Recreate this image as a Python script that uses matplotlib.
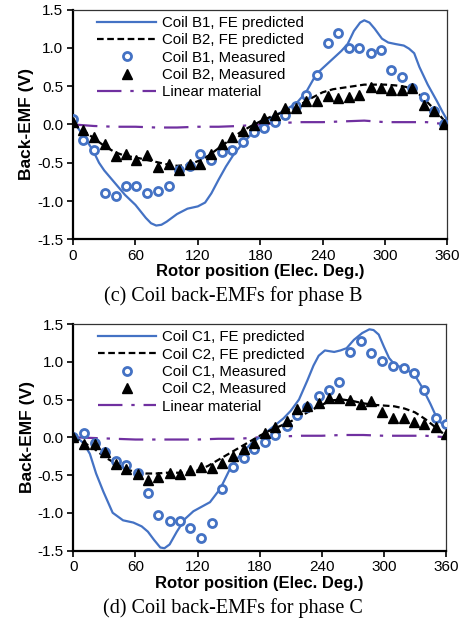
import matplotlib
matplotlib.use("Agg")
import matplotlib.pyplot as plt

plt.rcParams["font.family"] = ["Liberation Sans", "DejaVu Sans"]

BLUE = "#4472C4"
PURPLE = "#7030A0"

# ---- phase B data ----
x_meas_b = [0, 10, 20, 31, 41, 51, 61, 71, 82, 92, 102, 112, 122, 133, 143, 153, 163, 174,
            184, 194, 204, 214, 224, 235, 245, 255, 265, 275, 286, 296, 306, 316, 326, 337, 347, 357]
b1_meas = [0.07, -0.2, -0.34, -0.9, -0.93, -0.81, -0.81, -0.9, -0.87, -0.81, -0.6, -0.54,
           -0.39, -0.46, -0.36, -0.33, -0.23, -0.1, -0.04, 0.03, 0.12, 0.24, 0.39, 0.65,
           1.06, 1.19, 1.0, 1.0, 0.93, 0.97, 0.71, 0.62, 0.48, 0.36, 0.18, 0.0]
b2_meas = [0.03, -0.07, -0.17, -0.26, -0.41, -0.38, -0.46, -0.40, -0.56, -0.52, -0.6, -0.52,
           -0.52, -0.38, -0.26, -0.17, -0.08, -0.01, 0.08, 0.12, 0.22, 0.22, 0.30, 0.30,
           0.37, 0.34, 0.36, 0.39, 0.49, 0.47, 0.45, 0.45, 0.48, 0.26, 0.18, 0.0]

b1_fe_x = [0, 5, 10, 15, 20, 25, 30, 40, 50, 60, 70, 75, 80, 85, 90, 100, 110, 120, 127, 133,
           140, 147, 155, 163, 172, 182, 192, 203, 215, 224, 234, 242, 250, 258, 264, 270, 276,
           280, 285, 290, 297, 303, 310, 318, 323, 328, 333, 341, 350, 355, 360]
b1_fe_y = [0.05, -0.05, -0.15, -0.25, -0.36, -0.5, -0.6, -0.76, -0.92, -1.05, -1.22, -1.29,
           -1.32, -1.31, -1.27, -1.17, -1.1, -1.07, -1.02, -0.9, -0.72, -0.55, -0.38, -0.25,
           -0.12, 0.0, 0.1, 0.18, 0.28, 0.42, 0.66, 0.76, 0.86, 0.96, 1.05, 1.22, 1.33, 1.36,
           1.33, 1.25, 1.12, 1.07, 1.05, 1.03, 0.99, 0.93, 0.75, 0.52, 0.3, 0.17, 0.05]

fe_x = [0, 10, 20, 30, 40, 50, 60, 70, 80, 90, 100, 110, 120, 130, 140, 150, 160, 170, 180,
        190, 200, 210, 220, 230, 240, 250, 260, 270, 280, 290, 300, 310, 320, 330, 340, 350, 360]
b2_fe_y = [0.0, -0.08, -0.18, -0.28, -0.36, -0.41, -0.43, -0.46, -0.49, -0.52, -0.54, -0.53,
           -0.48, -0.41, -0.31, -0.21, -0.11, -0.03, 0.04, 0.1, 0.15, 0.21, 0.27, 0.35, 0.42,
           0.46, 0.48, 0.5, 0.52, 0.52, 0.52, 0.51, 0.49, 0.43, 0.3, 0.16, 0.0]

lin_x = [0, 20, 40, 60, 80, 100, 120, 140, 160, 180, 200, 220, 240, 260, 280, 300, 320, 340, 360]
lin_b = [0.0, -0.02, -0.03, -0.03, -0.04, -0.04, -0.03, -0.03, -0.02, 0.0, 0.02, 0.03, 0.03,
         0.04, 0.05, 0.03, 0.03, 0.03, 0.0]

# ---- phase C data ----
x_meas_c = [0, 10, 21, 31, 41, 51, 62, 72, 82, 93, 103, 113, 123, 134, 144, 154, 165, 175,
            185, 195, 206, 216, 226, 237, 247, 257, 267, 278, 288, 298, 309, 319, 329, 339, 350, 360]
c1_meas = [0.0, 0.05, -0.07, -0.2, -0.32, -0.37, -0.47, -0.74, -1.03, -1.11, -1.11, -1.2,
           -1.34, -1.13, -0.68, -0.4, -0.27, -0.15, -0.06, 0.03, 0.15, 0.29, 0.4, 0.55,
           0.63, 0.73, 1.13, 1.28, 1.12, 1.01, 0.94, 0.92, 0.85, 0.63, 0.26, 0.18]
c2_meas = [0.0, -0.09, -0.09, -0.19, -0.35, -0.42, -0.49, -0.57, -0.53, -0.48, -0.49, -0.43,
           -0.4, -0.41, -0.34, -0.25, -0.16, -0.07, 0.05, 0.14, 0.22, 0.37, 0.42, 0.46,
           0.52, 0.52, 0.5, 0.44, 0.48, 0.34, 0.26, 0.26, 0.2, 0.18, 0.13, 0.04]

c1_fe_x = [0, 5, 10, 16, 22, 29, 38, 48, 58, 66, 72, 78, 84, 88, 93, 100, 108, 116, 124, 132,
           142, 152, 162, 172, 184, 194, 203, 210, 218, 226, 232, 237, 243, 252, 258, 264, 271,
           279, 286, 290, 295, 300, 305, 310, 319, 329, 337, 345, 351, 356, 360]
c1_fe_y = [0.0, -0.02, -0.08, -0.22, -0.48, -0.72, -1.0, -1.1, -1.13, -1.18, -1.25, -1.36,
           -1.46, -1.47, -1.42, -1.25, -1.08, -0.98, -0.92, -0.86, -0.68, -0.4, -0.22, -0.08,
           0.04, 0.15, 0.25, 0.35, 0.5, 0.75, 0.95, 1.08, 1.15, 1.13, 1.15, 1.18, 1.29, 1.38,
           1.43, 1.42, 1.36, 1.2, 1.05, 0.97, 0.91, 0.84, 0.66, 0.44, 0.26, 0.18, 0.15]
c2_fe_y = [0.0, -0.07, -0.15, -0.26, -0.34, -0.42, -0.46, -0.48, -0.48, -0.47, -0.47, -0.47,
           -0.44, -0.38, -0.3, -0.22, -0.14, -0.06, 0.02, 0.09, 0.15, 0.21, 0.28, 0.36, 0.43,
           0.49, 0.5, 0.48, 0.45, 0.43, 0.42, 0.41, 0.38, 0.33, 0.24, 0.13, 0.02]
lin_c = [0.0, -0.01, -0.02, -0.03, -0.03, -0.03, -0.03, -0.02, -0.02, 0.0, 0.01, 0.02, 0.02,
         0.03, 0.03, 0.02, 0.02, 0.02, 0.0]

x_ticks = [0, 60, 120, 180, 240, 300, 360]
y_ticks = [-1.5, -1.0, -0.5, 0.0, 0.5, 1.0, 1.5]


def draw_panel(ax, coil, fe1, fe2_y, xm, m1, m2, lin_y, caption, cap_y, fig):
    ax.plot(fe1[0], fe1[1], color=BLUE, lw=1.6, label=f"Coil {coil}1, FE predicted", zorder=2)
    ax.plot(fe_x, fe2_y, color="black", lw=1.6, ls=(0, (3, 1.6)),
            label=f"Coil {coil}2, FE predicted", zorder=2)
    ax.plot(xm, m1, ls="none", marker="o", ms=5.8, mfc="white", mec=BLUE, mew=2.0,
            label=f"Coil {coil}1, Measured", zorder=3)
    ax.plot(xm, m2, ls="none", marker="^", ms=6.8, mfc="black", mec="black",
            label=f"Coil {coil}2, Measured", zorder=4)
    ax.plot(lin_x, lin_y, color=PURPLE, lw=1.6, ls=(0, (11, 4, 1.5, 4)),
            label="Linear material", zorder=1)

    ax.set_xlim(0, 360)
    ax.set_ylim(-1.5, 1.5)
    ax.set_xticks(x_ticks)
    ax.set_yticks(y_ticks)
    ax.set_yticklabels([f"{v:.1f}" for v in y_ticks])
    ax.tick_params(axis="both", direction="out", length=4, width=1.2, labelsize=11, pad=3)
    for s in ["left", "bottom"]:
        ax.spines[s].set_linewidth(1.6)
    for s in ["top", "right"]:
        ax.spines[s].set_linewidth(0.9)
        ax.spines[s].set_color("#333333")

    ax.set_xlabel("Rotor position (Elec. Deg.)", fontsize=12, fontweight="bold", labelpad=1)
    ax.set_ylabel("Back-EMF (V)", fontsize=12.5, fontweight="bold", labelpad=2)

    ax.legend(loc="upper left", bbox_to_anchor=(0.065, 0.972), frameon=False, fontsize=10.8,
              handlelength=3.9, handletextpad=0.4, labelspacing=0.22, borderaxespad=0,
              borderpad=0)

    fig.text(0.505, cap_y, caption, ha="center", va="center", fontsize=14.5,
             family=["Liberation Serif", "DejaVu Serif"])


def main():
    fig = plt.figure(figsize=(4.62, 6.26), dpi=100)
    ax1 = fig.add_axes([0.158, 0.6177, 0.8106, 0.367])
    ax2 = fig.add_axes([0.1587, 0.1206, 0.8067, 0.3618])

    draw_panel(ax1, "B", (b1_fe_x, b1_fe_y), b2_fe_y, x_meas_b, b1_meas, b2_meas, lin_b,
               "(c) Coil back-EMFs for phase B", 1 - 296 / 626, fig)
    draw_panel(ax2, "C", (c1_fe_x, c1_fe_y), c2_fe_y, x_meas_c, c1_meas, c2_meas, lin_c,
               "(d) Coil back-EMFs for phase C", 1 - 608 / 626, fig)

    fig.savefig("out.png", dpi=100)
    plt.close(fig)


if __name__ == "__main__":
    main()
